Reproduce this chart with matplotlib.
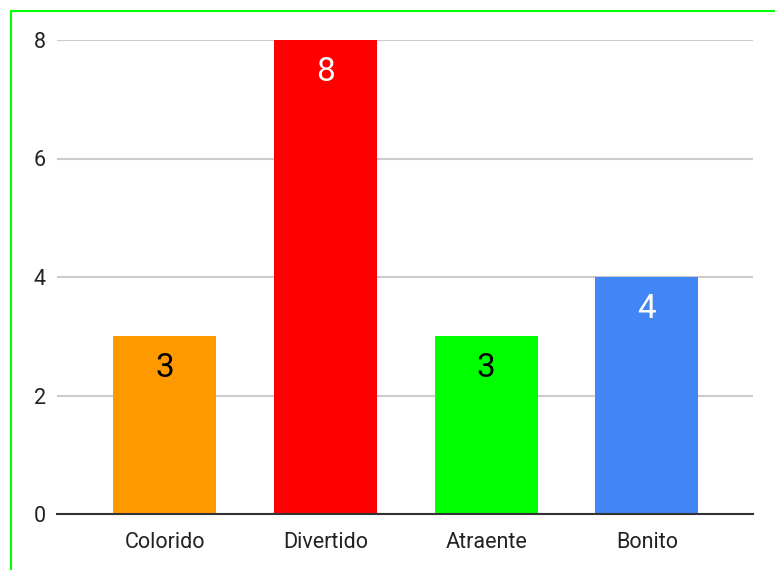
import matplotlib.pyplot as plt
from matplotlib.patches import Rectangle

categories = ['Colorido', 'Divertido', 'Atraente', 'Bonito']
values = [3, 8, 3, 4]
colors = ['#ff9900', '#ff0000', '#00ff00', '#4285f4']
label_colors = ['black', 'white', 'black', 'white']
yticks = [0, 2, 4, 6, 8]

plt.rcParams['font.family'] = ['Roboto', 'DejaVu Sans']

fig = plt.figure(figsize=(7.75, 5.7), dpi=100)
ax = fig.add_axes([57 / 775, 56 / 570, 696 / 775, 474 / 570])

x = range(len(categories))
bars = ax.bar(x, values, width=0.64, color=colors, zorder=3)

# value labels inside the top of each bar
for b, v, c in zip(bars, values, label_colors):
    ax.annotate(str(v), (b.get_x() + b.get_width() / 2, v),
                xytext=(0, -32), textcoords='offset pixels',
                ha='center', va='center', fontsize=24, color=c, zorder=4)

ax.set_xlim(-0.67, 3.66)
ax.set_ylim(0, 8)
ax.set_yticks(yticks)
ax.set_xticks(list(x))
ax.set_xticklabels(categories)
ax.tick_params(axis='both', length=0, labelsize=15.5, colors='#222222')
ax.tick_params(axis='y', pad=8)
ax.tick_params(axis='x', pad=13)
ax.grid(axis='y', color='#cccccc', linewidth=1.5, zorder=0)
for s in ['top', 'right', 'left']:
    ax.spines[s].set_visible(False)
ax.spines['bottom'].set_color('#333333')
ax.spines['bottom'].set_linewidth(1.5)
ax.spines['bottom'].set_zorder(5)

# green frame around the chart
fig.patches.append(Rectangle((10.5 / 775, -0.1), 1.2, (570 - 11) / 570 + 0.1,
                             transform=fig.transFigure, fill=False,
                             edgecolor='#00ff00', linewidth=1.5))

fig.savefig('out.png', dpi=100)
